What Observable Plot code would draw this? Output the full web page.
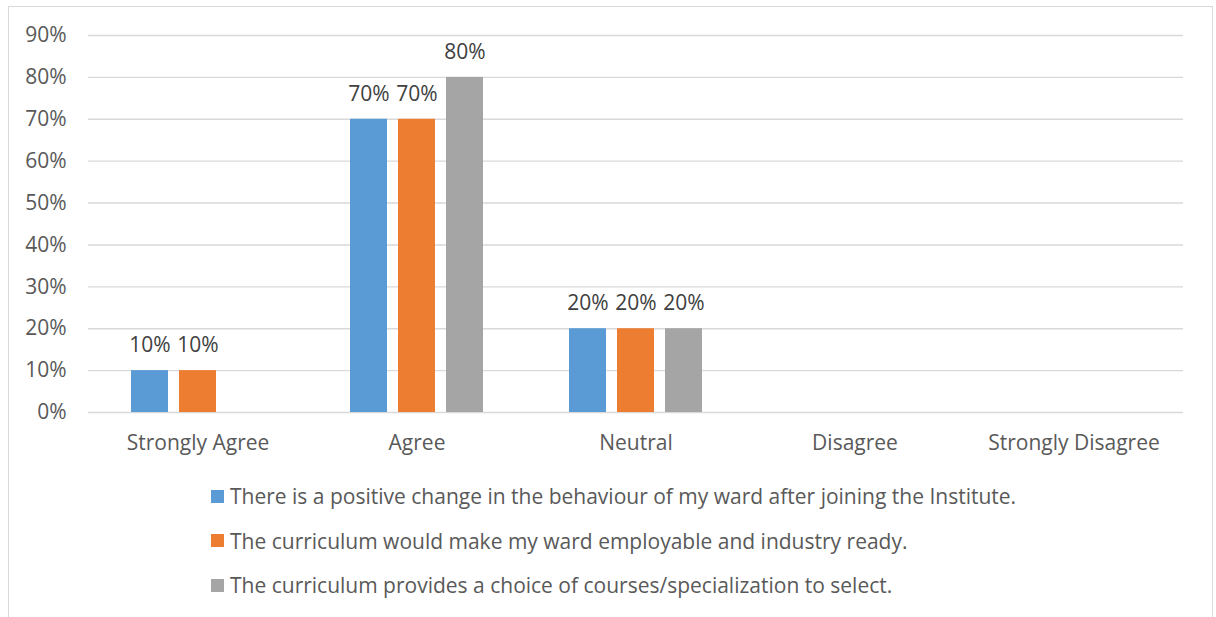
<!DOCTYPE html>
<html>
<head>
<meta charset="utf-8">
<script src="https://cdn.jsdelivr.net/npm/d3@7"></script>
<script src="https://cdn.jsdelivr.net/npm/@observablehq/plot@0.6"></script>
<style>
  html, body { margin: 0; padding: 0; background: #fff; }
  body { width: 1216px; height: 617px; overflow: hidden; position: relative; font-family: "Open Sans", sans-serif; }
  #frame { position: absolute; left: 8px; top: 6px; width: 1205px; height: 640px; border: 1.5px solid #d9d9d9; box-sizing: border-box; }
  #chart { position: absolute; left: 0; top: 0; }
  #legend { position: absolute; left: 211px; top: 474px; color: #595959; font-size: 21px; }
  .row { display: flex; align-items: center; height: 44.5px; }
  .sw { width: 13px; height: 13px; margin-right: 6px; flex: none; }
</style>
</head>
<body>
<div id="frame"></div>
<div id="chart"></div>
<div id="legend"></div>
<script>
const categories = ["Strongly Agree", "Agree", "Neutral", "Disagree", "Strongly Disagree"];
const seriesNames = [
  "There is a positive change in the behaviour of my ward after joining the Institute.",
  "The curriculum would make my ward employable and industry ready.",
  "The curriculum provides a choice of courses/specialization to select."
];
const seriesColors = ["#5b9bd5", "#ed7d31", "#a5a5a5"];
const behaviourValues = [0.10, 0.70, 0.20, 0, 0];
const employableValues = [0.10, 0.70, 0.20, 0, 0];
const choiceValues = [0, 0.80, 0.20, 0, 0];
const yTicks = [0, 0.1, 0.2, 0.3, 0.4, 0.5, 0.6, 0.7, 0.8, 0.9];

const seriesValues = [behaviourValues, employableValues, choiceValues];
const data = [];
categories.forEach((c, i) => {
  seriesNames.forEach((s, j) => {
    data.push({category: c, series: s, value: seriesValues[j][i]});
  });
});
const labeled = data.filter(d => d.value > 0);
const fmt = d3.format(".0%");

const chart = Plot.plot({
  width: 1216,
  height: 470,
  marginLeft: 88,
  marginRight: 33,
  marginTop: 35,
  marginBottom: 58,
  style: {fontFamily: "'Open Sans', sans-serif", color: "#595959", background: "transparent"},
  fx: {domain: categories, padding: 0, label: null},
  x: {domain: seriesNames, paddingInner: 0.22, paddingOuter: 0.85, axis: null},
  y: {domain: [0, 0.9], axis: null},
  color: {domain: seriesNames, range: seriesColors},
  marks: [
    Plot.gridY(yTicks, {stroke: "#d9d9d9", strokeOpacity: 1, strokeWidth: 1.4}),
    Plot.axisY({ticks: yTicks, tickFormat: fmt, tickSize: 0, tickPadding: 22, fontSize: 21, label: null, fill: "#595959"}),
    Plot.axisFx({anchor: "bottom", tickSize: 0, tickPadding: 23, fontSize: 21, label: null, fill: "#595959"}),
    Plot.barY(data, {fx: "category", x: "series", y: "value", fill: "series"}),
    Plot.text(labeled, {fx: "category", x: "series", y: "value", text: d => fmt(d.value), dy: -25, fontSize: 21, fill: "#404040"})
  ]
});
document.getElementById("chart").appendChild(chart);

const legend = document.getElementById("legend");
seriesNames.forEach((s, i) => {
  const row = document.createElement("div");
  row.className = "row";
  const sw = document.createElement("div");
  sw.className = "sw";
  sw.style.background = seriesColors[i];
  const t = document.createElement("span");
  t.textContent = s;
  row.appendChild(sw);
  row.appendChild(t);
  legend.appendChild(row);
});
</script>
</body>
</html>
